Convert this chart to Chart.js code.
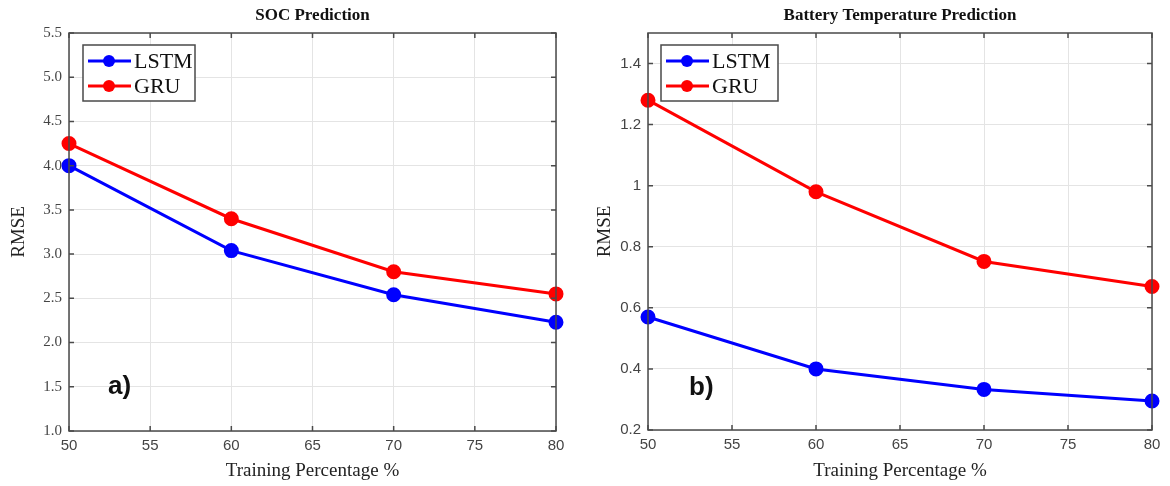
<!DOCTYPE html>
<html lang="en">
<head>
<meta charset="UTF-8">
<title>RMSE vs Training Percentage</title>
<script src="https://cdn.jsdelivr.net/npm/chart.js@4/dist/chart.umd.min.js"></script>
<style>
  html, body { margin: 0; padding: 0; background: #fff; }
  .wrap { position: absolute; top: 0; height: 486px; }
</style>
</head>
<body>
<div class="wrap" style="left:0; width:590px;"><canvas id="socChart"></canvas></div>
<div class="wrap" style="left:590px; width:580px;"><canvas id="tempChart"></canvas></div>

<script>
// data
const trainingPct = [50, 60, 70, 80];
const socLstm = [4.0, 3.04, 2.54, 2.23];
const socGru = [4.25, 3.40, 2.80, 2.55];
const tempLstm = [0.57, 0.40, 0.333, 0.295];
const tempGru = [1.28, 0.98, 0.752, 0.67];
const seriesNames = ['LSTM', 'GRU'];
const seriesColors = ['rgb(0,0,255)', 'rgb(255,0,0)'];

const serif = '"Liberation Serif", "Times New Roman", serif';
const sans = '"Liberation Sans", Arial, sans-serif';

function makeDatasets(a, b) {
    return [a, b].map((vals, i) => ({
        label: seriesNames[i],
        data: trainingPct.map((x, j) => ({ x: x, y: vals[j] })),
        borderColor: seriesColors[i],
        backgroundColor: seriesColors[i],
        borderWidth: 3,
        pointRadius: 6,
        pointHoverRadius: 6,
        tension: 0,
        clip: false
    }));
}

// box, inward ticks, legend inside plot, title and panel letter
const decor = {
    id: 'decor',
    afterDraw(chart, args, opts) {
        const ctx = chart.ctx;
        const a = chart.chartArea;
        const xs = chart.scales.x, ys = chart.scales.y;
        ctx.save();
        ctx.strokeStyle = '#4a4a4a';
        ctx.lineWidth = 1.5;
        ctx.strokeRect(a.left, a.top, a.right - a.left, a.bottom - a.top);
        ctx.beginPath();
        xs.ticks.forEach(t => {
            const px = xs.getPixelForValue(t.value);
            ctx.moveTo(px, a.bottom); ctx.lineTo(px, a.bottom - 5);
            ctx.moveTo(px, a.top); ctx.lineTo(px, a.top + 5);
        });
        ys.ticks.forEach(t => {
            const py = ys.getPixelForValue(t.value);
            ctx.moveTo(a.left, py); ctx.lineTo(a.left + 5, py);
            ctx.moveTo(a.right, py); ctx.lineTo(a.right - 5, py);
        });
        ctx.stroke();

        // title
        ctx.fillStyle = '#111';
        ctx.font = 'bold 17px ' + serif;
        ctx.textAlign = 'center';
        ctx.textBaseline = 'middle';
        ctx.fillText(opts.title, (a.left + a.right) / 2, 16);

        // legend
        const lx = a.left + opts.legendDx, ly = a.top + 12;
        const lw = opts.legendW, lh = 56;
        ctx.fillStyle = '#fff';
        ctx.fillRect(lx, ly, lw, lh);
        ctx.strokeStyle = '#4a4a4a';
        ctx.lineWidth = 1.5;
        ctx.strokeRect(lx, ly, lw, lh);
        chart.data.datasets.forEach((ds, i) => {
            const yy = ly + 16 + i * 25;
            ctx.strokeStyle = ds.borderColor;
            ctx.lineWidth = 3;
            ctx.beginPath();
            ctx.moveTo(lx + 5, yy); ctx.lineTo(lx + 48, yy);
            ctx.stroke();
            ctx.fillStyle = ds.borderColor;
            ctx.beginPath();
            ctx.arc(lx + 26, yy, 6, 0, Math.PI * 2);
            ctx.fill();
            ctx.fillStyle = '#111';
            ctx.font = '22px ' + serif;
            ctx.textAlign = 'left';
            ctx.fillText(ds.label, lx + 51, yy + 1);
        });

        // panel letter
        ctx.fillStyle = '#111';
        ctx.font = 'bold 26px ' + sans;
        ctx.textAlign = 'left';
        ctx.fillText(opts.letter, opts.letterX, opts.letterY);
        ctx.restore();
    }
};

function makeChart(id, a, b, cfg) {
    new Chart(document.getElementById(id), {
        type: 'line',
        data: { datasets: makeDatasets(a, b) },
        plugins: [decor],
        options: {
            responsive: true,
            maintainAspectRatio: false,
            animation: false,
            layout: { padding: { top: 33, right: cfg.padRight, left: 0, bottom: 0 } },
            plugins: {
                legend: { display: false },
                tooltip: { enabled: false },
                decor: cfg.decor
            },
            scales: {
                x: {
                    type: 'linear',
                    min: 50, max: 80,
                    ticks: { stepSize: 5, padding: 6, color: '#444', font: { family: sans, size: 15 } },
                    grid: { color: '#e4e4e4', drawTicks: false },
                    border: { display: false },
                    title: { display: true, text: 'Training Percentage %', color: '#222',
                             font: { family: serif, size: 19 }, padding: { top: 0, bottom: 4 } },
                    afterFit: s => { s.height = cfg.xHeight; }
                },
                y: {
                    min: cfg.ymin, max: cfg.ymax,
                    afterBuildTicks: s => { s.ticks = cfg.yTicks.map(v => ({ value: v })); },
                    ticks: { padding: 7, color: '#444', font: { family: cfg.yFont, size: 15 },
                             callback: cfg.yFmt },
                    grid: { color: '#e4e4e4', drawTicks: false },
                    border: { display: false },
                    title: { display: true, text: 'RMSE', color: '#222',
                             font: { family: serif, size: 19 }, padding: { top: cfg.yTitlePad, bottom: 2 } },
                    afterFit: s => { s.width = cfg.yWidth; }
                }
            }
        }
    });
}

const socTicks = [1.0, 1.5, 2.0, 2.5, 3.0, 3.5, 4.0, 4.5, 5.0, 5.5];
const tempTicks = [0.2, 0.4, 0.6, 0.8, 1.0, 1.2, 1.4];

makeChart('socChart', socLstm, socGru, {
    ymin: 1.0, ymax: 5.5, yTicks: socTicks, yFont: serif,
    yFmt: v => v.toFixed(1),
    yWidth: 69, xHeight: 55, padRight: 34, yTitlePad: 8,
    decor: { title: 'SOC Prediction', legendDx: 14, legendW: 112, letter: 'a)', letterX: 108, letterY: 387 }
});

makeChart('tempChart', tempLstm, tempGru, {
    ymin: 0.2, ymax: 1.5, yTicks: tempTicks, yFont: sans,
    yFmt: v => String(+v.toFixed(1)),
    yWidth: 58, xHeight: 56, padRight: 18, yTitlePad: 4,
    decor: { title: 'Battery Temperature Prediction', legendDx: 13, legendW: 117, letter: 'b)', letterX: 99, letterY: 388 }
});
</script>
</body>
</html>
